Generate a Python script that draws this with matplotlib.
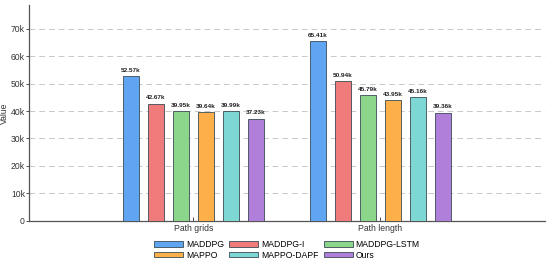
import matplotlib.pyplot as plt
import numpy as np
from matplotlib.ticker import FuncFormatter

plt.rcParams['font.family'] = ['Liberation Sans', 'DejaVu Sans']

groups = ['Path grids', 'Path length']
methods = ['MADDPG', 'MADDPG-I', 'MADDPG-LSTM', 'MAPPO', 'MAPPO-DAPF', 'Ours']
path_grids = [52.57, 42.67, 39.95, 39.64, 39.99, 37.23]
path_length = [65.41, 50.94, 45.79, 43.95, 45.16, 39.36]
colors = ['#5fa5f2', '#f07b7b', '#8bd68a', '#fdb04a', '#7dd8d3', '#b07fd9']

values = np.array([path_grids, path_length]) * 1000

fig, ax = plt.subplots(figsize=(5.5, 2.63), dpi=100)
fig.subplots_adjust(left=0.053, right=0.99, top=0.98, bottom=0.16)

x = np.arange(len(groups))
slot = 0.134
width = 0.087
handles = []
for i, m in enumerate(methods):
    pos = x + (i - 2.5) * slot
    bars = ax.bar(pos, values[:, i], width, color=colors[i], edgecolor='#3a4a55',
                  linewidth=0.6, label=m, zorder=3)
    handles.append(bars)
    for b, v in zip(bars, values[:, i]):
        ax.text(b.get_x() + b.get_width() / 2, v + 1200, f'{v / 1000:.2f}k',
                ha='center', va='bottom', fontsize=4.6, fontweight='bold', color='#222222')

ax.set_xlim(-0.88, 1.88)
ax.set_ylim(0, values.max() * 1.2)
ax.set_xticks(x)
ax.set_xticklabels(groups, fontsize=6.2)
ax.set_yticks(np.arange(0, 70001, 10000))
ax.yaxis.set_major_formatter(FuncFormatter(lambda v, p: '0' if v == 0 else f'{int(v / 1000)}k'))
ax.tick_params(axis='y', labelsize=6.2, length=2, width=0.6, pad=1, colors='#333333')
ax.tick_params(axis='x', direction='in', length=3, width=0.6, pad=2, colors='#333333')
ax.set_ylabel('Value', fontsize=6.2, labelpad=1.5, color='#333333')
ax.grid(axis='y', linestyle=(0, (6, 4)), color='#c8c8c8', linewidth=0.7, zorder=0)

for s in ['top', 'right']:
    ax.spines[s].set_visible(False)
for s in ['left', 'bottom']:
    ax.spines[s].set_color('#555555')
    ax.spines[s].set_linewidth(0.9)

# row-major legend order
order = [0, 3, 1, 4, 2, 5]
ax.legend([handles[k] for k in order], [methods[k] for k in order],
          loc='upper center', bbox_to_anchor=(0.5, -0.06), ncol=3, frameon=False,
          fontsize=6.2, handlelength=3.4, handleheight=0.65, columnspacing=0.6,
          labelspacing=0.2, handletextpad=0.3, borderpad=0.2)

fig.savefig('out.png', dpi=100)
